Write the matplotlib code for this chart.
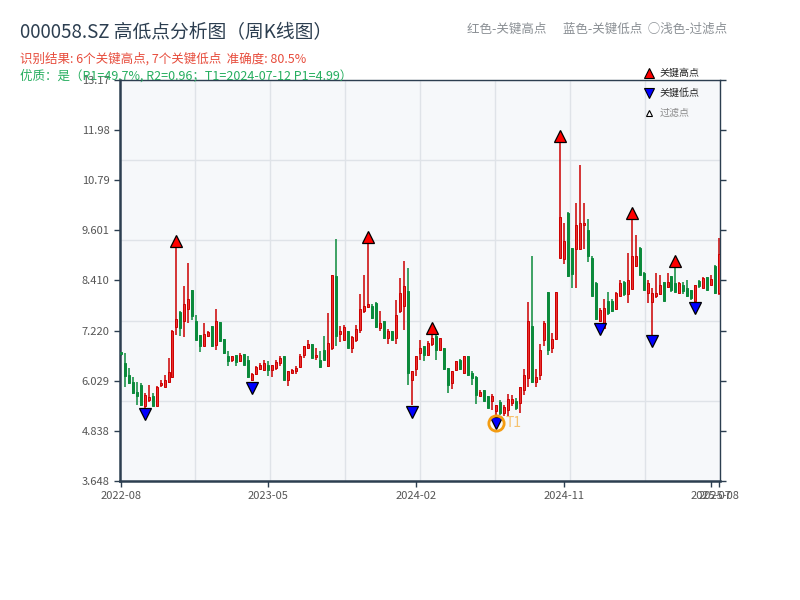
import matplotlib
matplotlib.use("Agg")
import matplotlib.pyplot as plt
import matplotlib.transforms as mtransforms
from matplotlib.lines import Line2D
import numpy as np
import pandas as pd

plt.rcParams['font.family'] = ['Noto Sans CJK SC', 'DejaVu Sans']

# ---------------- data ----------------
start_date = "2022-08-26"
holiday_weeks = ["2022-10-07", "2023-01-27", "2023-10-06", "2024-02-16"]

opens = [6.70, 6.45, 6.17, 5.99, 5.77, 5.93, 5.42, 5.57, 5.67, 5.44,
         5.92, 5.89, 5.99, 6.12, 7.30, 7.65, 7.44, 7.73, 8.19, 7.44,
         7.12, 6.86, 7.10, 7.32, 6.88, 7.42, 7.02, 6.62, 6.53, 6.65,
         6.49, 6.67, 6.53, 6.05, 6.20, 6.31, 6.28, 6.41, 6.29, 6.33,
         6.44, 6.61, 6.04, 6.21, 6.25, 6.35, 6.65, 6.81, 6.91, 6.59,
         6.53, 6.75, 6.37, 6.81, 8.51, 7.15, 7.00, 7.20, 6.81, 7.00,
         7.24, 7.68, 7.79, 7.80, 7.88, 7.28, 7.44, 7.04, 7.20, 7.04,
         7.68, 7.80, 8.15, 6.05, 6.31, 6.69, 6.85, 6.65, 6.89, 7.10,
         6.77, 6.81, 6.33, 5.97, 6.29, 6.53, 6.21, 6.62, 6.21, 6.13,
         5.67, 5.81, 5.67, 5.54, 5.30, 5.53, 5.26, 5.34, 5.50, 5.54,
         5.50, 5.80, 6.09, 7.32, 5.99, 6.17, 7.00, 8.13, 6.81, 7.02,
         8.95, 8.91, 10.02, 9.19, 9.15, 9.15, 9.72, 9.62, 8.95, 8.35,
         7.45, 7.28, 7.92, 7.92, 7.73, 8.05, 8.37, 8.08, 8.21, 8.75,
         9.19, 8.59, 8.11, 7.89, 8.05, 8.08, 8.37, 8.26, 8.51, 8.35,
         8.11, 8.31, 8.23, 8.19, 7.92, 8.39, 8.23, 8.49, 8.31, 8.75,
         8.11]
highs = [6.72, 6.69, 6.33, 6.13, 5.99, 5.97, 5.73, 5.93, 5.73, 5.91,
         6.05, 6.16, 6.57, 7.24, 9.20, 7.68, 8.27, 8.83, 8.19, 7.58,
         7.12, 7.39, 7.20, 7.32, 7.73, 7.42, 7.02, 6.73, 6.62, 6.65,
         6.68, 6.67, 6.62, 6.21, 6.39, 6.44, 6.52, 6.49, 6.41, 6.53,
         6.62, 6.61, 6.27, 6.31, 6.39, 6.67, 6.86, 7.00, 6.91, 6.81,
         6.73, 7.08, 7.64, 8.55, 9.39, 7.32, 7.36, 7.20, 7.08, 7.36,
         8.08, 8.55, 9.28, 7.84, 7.89, 7.69, 7.44, 7.26, 7.20, 7.94,
         8.47, 8.87, 8.71, 6.25, 6.62, 6.99, 6.85, 6.97, 7.12, 7.16,
         7.05, 6.81, 6.33, 6.27, 6.50, 6.55, 6.62, 6.62, 6.25, 6.15,
         5.80, 5.81, 5.67, 5.72, 5.46, 5.57, 5.45, 5.72, 5.69, 5.62,
         5.89, 6.31, 7.89, 9.00, 6.31, 6.89, 7.44, 8.13, 7.16, 8.13,
         11.68, 9.77, 10.04, 9.19, 10.24, 11.15, 10.26, 9.88, 8.99, 8.37,
         7.75, 7.96, 8.13, 7.96, 8.13, 8.43, 8.39, 9.07, 9.87, 9.48,
         9.20, 8.61, 8.43, 8.23, 8.59, 8.55, 8.37, 8.59, 8.51, 8.73,
         8.37, 8.37, 8.43, 8.19, 8.31, 8.41, 8.49, 8.49, 8.53, 8.77,
         9.43]
lows = [6.62, 5.87, 5.96, 5.72, 5.46, 5.42, 5.39, 5.53, 5.42, 5.42,
        5.88, 5.88, 5.97, 6.09, 7.12, 7.10, 7.07, 7.40, 7.48, 6.99,
        6.70, 6.85, 7.07, 6.83, 6.77, 6.95, 6.67, 6.37, 6.47, 6.37,
        6.48, 6.40, 6.09, 6.02, 6.17, 6.28, 6.27, 6.15, 6.12, 6.29,
        6.39, 6.04, 5.91, 6.21, 6.20, 6.33, 6.57, 6.78, 6.57, 6.53,
        6.33, 6.53, 6.35, 6.77, 6.85, 6.96, 7.00, 6.81, 6.69, 6.95,
        7.16, 7.64, 7.75, 7.50, 7.29, 7.20, 7.02, 6.91, 6.99, 6.89,
        7.64, 7.24, 5.93, 5.45, 6.15, 6.53, 6.49, 6.62, 6.86, 6.51,
        6.75, 6.29, 5.75, 5.83, 6.25, 6.29, 6.20, 6.15, 5.93, 5.48,
        5.66, 5.54, 5.38, 5.34, 5.18, 5.22, 5.20, 5.19, 5.43, 5.34,
        5.27, 5.70, 5.89, 5.97, 5.89, 6.05, 6.86, 6.63, 6.69, 7.00,
        8.95, 8.81, 8.49, 8.23, 8.23, 9.13, 9.15, 8.85, 8.04, 7.48,
        7.42, 7.26, 7.60, 7.66, 7.70, 8.04, 8.04, 7.88, 8.21, 8.73,
        8.53, 8.18, 7.88, 7.12, 8.00, 8.06, 7.92, 8.24, 8.13, 8.13,
        8.10, 8.08, 8.02, 7.95, 7.90, 8.23, 8.22, 8.19, 8.30, 8.10,
        8.07]
closes = [6.66, 6.14, 5.97, 5.74, 5.67, 5.46, 5.68, 5.65, 5.44, 5.89,
          5.97, 6.05, 6.23, 7.22, 7.50, 7.28, 7.85, 7.96, 7.56, 7.00,
          6.86, 7.15, 7.18, 6.85, 7.44, 6.97, 6.69, 6.49, 6.62, 6.47,
          6.65, 6.41, 6.12, 6.20, 6.35, 6.41, 6.45, 6.29, 6.41, 6.48,
          6.56, 6.04, 6.25, 6.29, 6.33, 6.62, 6.85, 6.89, 6.57, 6.64,
          6.35, 6.53, 6.93, 8.53, 7.10, 7.20, 7.30, 6.81, 7.07, 7.25,
          7.73, 7.81, 7.84, 7.52, 7.31, 7.39, 7.04, 7.20, 7.00, 7.60,
          8.12, 8.27, 6.21, 6.25, 6.61, 6.81, 6.65, 6.92, 7.05, 6.77,
          7.05, 6.31, 5.93, 6.25, 6.49, 6.31, 6.61, 6.17, 6.09, 5.70,
          5.77, 5.54, 5.38, 5.67, 5.46, 5.27, 5.41, 5.59, 5.59, 5.38,
          5.89, 6.17, 7.44, 6.01, 6.13, 6.77, 7.40, 6.77, 7.02, 8.13,
          9.92, 9.34, 8.51, 8.57, 9.72, 9.78, 9.78, 8.99, 8.05, 7.50,
          7.70, 7.76, 7.64, 7.68, 8.11, 8.35, 8.08, 8.43, 8.99, 9.00,
          8.55, 8.19, 8.35, 8.11, 8.11, 8.31, 7.92, 8.37, 8.19, 8.13,
          8.35, 8.15, 8.04, 7.99, 8.31, 8.27, 8.47, 8.19, 8.45, 8.11,
          9.03]

key_high_idx = [14, 62, 78, 110, 128, 139]
key_low_idx = [6, 33, 73, 94, 120, 133, 144]
t1_idx = 94

y_ticks = [3.648, 4.838, 6.029, 7.220, 8.410, 9.601, 10.79, 11.98, 13.17]
y_tick_labels = ["3.648", "4.838", "6.029", "7.220", "8.410", "9.601", "10.79", "11.98", "13.17"]

title = "000058.SZ 高低点分析图（周K线图）"
line_result = "识别结果: 6个关键高点, 7个关键低点  准确度: 80.5%"
line_quality = "优质：是（R1=49.7%, R2=0.96；T1=2024-07-12 P1=4.99）"
color_note = "红色-关键高点      蓝色-关键低点  ○浅色-过滤点"

# ---------------- derived ----------------
n = len(opens)
dates = pd.date_range(start_date, periods=n + len(holiday_weeks), freq="W-FRI")
dates = dates[~dates.isin(pd.to_datetime(holiday_weeks))][:n]
x = np.arange(n)
O = np.array(opens); H = np.array(highs); L = np.array(lows); C = np.array(closes)
up = C >= O

RED_FACE = "#e83030"
RED_EDGE = "#cc0000"
GREEN = "#0b8a3b"

fig = plt.figure(figsize=(8, 6), dpi=100)
pos = [0.15, 0.1983, 0.75, 0.6683]

# background grid axes
axg = fig.add_axes(pos, zorder=0)
axg.set_facecolor("#f6f8fa")
axg.set_xlim(0, 8); axg.set_ylim(0, 5)
axg.set_xticks(range(9)); axg.set_yticks(range(6))
axg.grid(True, color="#dfe3e8", linewidth=1.0)
axg.tick_params(length=0, labelbottom=False, labelleft=False)
for s in axg.spines.values():
    s.set_visible(False)

ax = fig.add_axes(pos, zorder=1)
ax.set_facecolor("none")

# wicks
ax.vlines(x[up], L[up], H[up], color=RED_EDGE, linewidth=1.1, zorder=2)
ax.vlines(x[~up], L[~up], H[~up], color=GREEN, linewidth=1.1, zorder=2)
# bodies
body_bottom = np.minimum(O, C)
body_h = np.maximum(np.abs(C - O), 0.02)
ax.bar(x[up], body_h[up], bottom=body_bottom[up], width=0.5,
       color=RED_FACE, edgecolor=RED_EDGE, linewidth=0.7, zorder=3)
ax.bar(x[~up], body_h[~up], bottom=body_bottom[~up], width=0.5,
       color=GREEN, edgecolor=GREEN, linewidth=0.7, zorder=3)

# key points markers (offset so they sit just beyond the wick ends)
up_tr = mtransforms.offset_copy(ax.transData, fig=fig, y=4.6, units="points")
dn_tr = mtransforms.offset_copy(ax.transData, fig=fig, y=-4.6, units="points")
ax.plot(x[key_high_idx], H[key_high_idx], linestyle="none", marker="^", ms=9,
        mfc="#ff0000", mec="black", mew=0.9, transform=up_tr, zorder=5, clip_on=False)
ax.plot(x[key_low_idx], L[key_low_idx], linestyle="none", marker="v", ms=9,
        mfc="#0000ff", mec="black", mew=0.9, transform=dn_tr, zorder=5, clip_on=False)

# T1 highlight
ax.plot([x[t1_idx]], [L[t1_idx]], marker="o", ms=11, mfc="none", mec="#f39c12",
        mew=2.0, linestyle="none", transform=dn_tr, zorder=6)
t1_tr = mtransforms.offset_copy(ax.transData, fig=fig, x=7, y=-4.6, units="points")
ax.text(x[t1_idx], L[t1_idx], "T1", color="#f5b041", alpha=0.75, fontsize=10,
        ha="left", va="center", transform=t1_tr, zorder=6)

# axes styling
ax.set_xlim(-0.15, n - 1 + 0.15)
ax.set_ylim(y_ticks[0], y_ticks[-1])
ax.set_yticks(y_ticks)
ax.set_yticklabels(y_tick_labels)
step = n // 4
tick_idx = list(range(0, n, step))
if tick_idx[-1] != n - 1:
    tick_idx.append(n - 1)
ax.set_xticks(tick_idx)
ax.set_xticklabels([dates[i].strftime("%Y-%m") for i in tick_idx])
ax.tick_params(axis="both", labelsize=8, labelcolor="#555555", color="#2c3e50",
               length=4, width=1)
ax.tick_params(axis="y", right=True)
for side in ["left", "bottom"]:
    ax.spines[side].set_color("#2c3e50"); ax.spines[side].set_linewidth(1.8)
for side in ["top", "right"]:
    ax.spines[side].set_color("#2c3e50"); ax.spines[side].set_linewidth(1.0)

# legend
handles = [
    Line2D([], [], linestyle="none", marker="^", ms=7, mfc="#ff0000", mec="black", mew=0.8),
    Line2D([], [], linestyle="none", marker="v", ms=7, mfc="#0000ff", mec="black", mew=0.8),
    Line2D([], [], linestyle="none", marker="^", ms=5, mfc="white", mec="black", mew=0.8),
]
leg = ax.legend(handles, ["关键高点", "关键低点", "过滤点"], loc="upper left",
                bbox_to_anchor=(0.868, 1.04), frameon=False, fontsize=7.2,
                handlelength=0.9, handletextpad=0.6, labelspacing=1.0,
                borderaxespad=0.0)
leg.get_texts()[0].set_color("#222222")
leg.get_texts()[1].set_color("#222222")
leg.get_texts()[2].set_color("#888888")

# header texts
fig.text(0.025, 0.945, title, fontsize=13.5, color="#2c3e50", ha="left", va="center")
fig.text(0.025, 0.902, line_result, fontsize=9, color="#e74c3c", ha="left", va="center")
fig.text(0.025, 0.873, line_quality, fontsize=9, color="#27ae60", ha="left", va="center")
fig.text(0.909, 0.952, color_note, fontsize=9, color="#8a8f94", ha="right", va="center")

fig.savefig("out.png", dpi=100)
